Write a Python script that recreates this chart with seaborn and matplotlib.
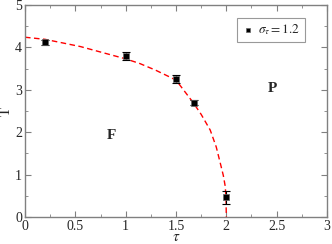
import matplotlib
matplotlib.use("Agg")
import matplotlib.pyplot as plt
import seaborn as sns
import pandas as pd
from matplotlib.ticker import MultipleLocator, FormatStrFormatter

# data points
tau = [0.2, 1.0, 1.5, 1.68, 2.0]
T = [4.12, 3.80, 3.26, 2.69, 0.46]
T_err = [0.06, 0.09, 0.09, 0.06, 0.15]

# dashed fit curve
tau_fit = [0.0, 0.2, 0.55, 1.0, 1.14, 1.3, 1.5, 1.67, 1.75, 1.84, 1.9, 1.94, 1.97, 1.99, 1.997, 2.0]
T_fit = [4.24, 4.19, 4.02, 3.73, 3.62, 3.46, 3.23, 2.70, 2.42, 2.05, 1.65, 1.27, 0.98, 0.71, 0.40, 0.0]

sns.set_style("ticks")
plt.rcParams["font.family"] = ["Liberation Serif", "DejaVu Serif"]
plt.rcParams["mathtext.fontset"] = "stix"

fig = plt.figure(figsize=(3.32, 2.44), dpi=100)
ax = fig.add_axes([25 / 332, 27 / 244, 302 / 332, 212 / 244])

fit_df = pd.DataFrame({"tau": tau_fit, "T": T_fit})
sns.lineplot(data=fit_df, x="tau", y="T", ax=ax, color="red", lw=1.0,
             sort=False, linestyle=(0, (4, 2.5)))

pts = pd.DataFrame({"tau": tau, "T": T})
ax.errorbar(tau, T, yerr=T_err, fmt="none", ecolor="black", elinewidth=0.8,
            capsize=3, capthick=0.8, zorder=3)
sns.scatterplot(data=pts, x="tau", y="T", ax=ax, marker="s", s=25,
                color="black", edgecolor="dimgray", linewidth=0.5, zorder=4,
                label=r"$\sigma_\tau = 1.2$")

ax.text(0.86, 1.93, "F", fontsize=11, fontweight="bold", ha="center", va="center")
ax.text(2.46, 3.04, "P", fontsize=11, fontweight="bold", ha="center", va="center")

ax.set_xlim(0, 3)
ax.set_ylim(0, 5)
ax.xaxis.set_major_locator(MultipleLocator(0.5))
ax.xaxis.set_minor_locator(MultipleLocator(0.25))
ax.yaxis.set_major_locator(MultipleLocator(1))
ax.yaxis.set_minor_locator(MultipleLocator(0.5))
ax.xaxis.set_major_formatter(FormatStrFormatter("%g"))
ax.yaxis.set_major_formatter(FormatStrFormatter("%g"))
ax.tick_params(which="both", direction="in", top=True, right=True,
               color="gray", labelsize=10, pad=2)
ax.tick_params(which="major", length=4)
ax.tick_params(which="minor", length=2)
for sp in ax.spines.values():
    sp.set_color("gray")
    sp.set_linewidth(1.0)

ax.set_xlabel(r"$\tau$", fontsize=11, labelpad=-1)
ax.set_ylabel("T", fontsize=11, labelpad=2)

leg = ax.legend(loc="upper right", bbox_to_anchor=(0.95, 0.97), fontsize=9.5,
                frameon=True, fancybox=False, handletextpad=0.3,
                borderpad=0.35, handlelength=1.0, markerscale=0.7)
leg.get_frame().set_edgecolor("gray")
leg.get_frame().set_linewidth(0.8)

fig.savefig("out.png", dpi=100)
